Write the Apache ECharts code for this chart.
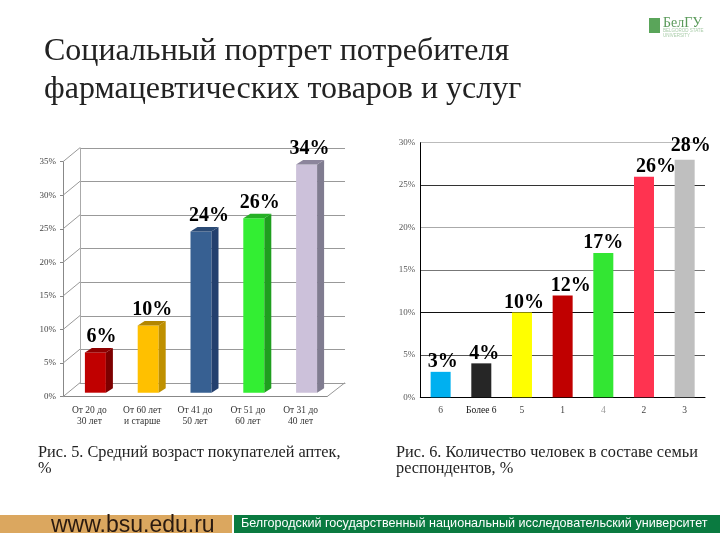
<!DOCTYPE html>
<html>
<head>
<meta charset="utf-8">
<style>
  html, body { margin: 0; padding: 0; background: #fff; }
  #chart { width: 720px; height: 540px; }
</style>
<script src="https://cdn.jsdelivr.net/npm/echarts@6/dist/echarts.min.js"></script>
</head>
<body>
<div id="chart"></div>
<script>
const ageCategories = ['От 20 до\n30 лет', 'От 60 лет\nи старше', 'От 41 до\n50 лет', 'От 51 до\n60 лет', 'От 31 до\n40 лет']
const ageValues = [6, 10, 24, 26, 34]
const ageTicks = [0, 5, 10, 15, 20, 25, 30, 35]

const familyCategories = ['6', 'Более 6', '5', '1', '4', '2', '3']
const familyValues = [3, 4, 10, 12, 17, 26, 28]

const titleText = 'Социальный портрет потребителя\nфармацевтических товаров и услуг'
const captionLeft = 'Рис. 5. Средний возраст покупателей аптек,\n%'
const captionRight = 'Рис. 6. Количество человек в составе семьи\nреспондентов, %'
const footerSite = 'www.bsu.edu.ru'
const footerName = 'Белгородский государственный национальный исследовательский университет'

const SERIF = '"Liberation Serif", serif'
const SANS = '"Liberation Sans", sans-serif'

// front, side, top faces
const ageColors = [
  ['#c00000', '#7d0000', '#8f0000'],
  ['#ffc000', '#bf9000', '#b38600'],
  ['#376092', '#24406e', '#2a4a75'],
  ['#33ee33', '#1f9e1f', '#26b026'],
  ['#ccc1da', '#807c90', '#8c859c'],
]
const familyColors = ['#00b0f0', '#262626', '#ffff00', '#c00000', '#33e633', '#ff3350', '#bfbfbf']
const familyGridColors = ['#000', '#555', '#111', '#777', '#aaa', '#333', '#bbb']

const ageLabelShift = [12, 10, 14, 12, 9]
const familyLabelShift = [2, 3, 2, 8, 0, 12, 6]
const familyLabelLift = [0, 0, 0, 0, 0, 0, 4]

function renderWallEdge(params, api) {
  const cs = params.coordSys
  const y = api.coord([0, api.value(1)])[1]
  const children = [{
    type: 'line',
    shape: { x1: cs.x, y1: y, x2: cs.x + 17, y2: y - 14 },
    style: { stroke: '#999', lineWidth: 1 },
  }]
  if (api.value(1) === 0) {
    children.push({
      type: 'line',
      shape: { x1: cs.x + cs.width, y1: y, x2: cs.x + cs.width + 18, y2: y - 14 },
      style: { stroke: '#999', lineWidth: 1 },
    })
  }
  return { type: 'group', children }
}

function renderBar3d(params, api) {
  const i = api.value(0)
  const value = api.value(1)
  const top = api.coord([i, value])
  const base = api.coord([i, 0])
  const w = 21
  const d = 7
  const h = 4.5
  const x = top[0] + 6 - w / 2
  const y0 = base[1] - 4
  const y1 = top[1] - 4
  const colors = ageColors[i]
  return {
    type: 'group',
    children: [
      { type: 'rect', shape: { x, y: y1, width: w, height: y0 - y1 }, style: { fill: colors[0] } },
      {
        type: 'polygon',
        shape: { points: [[x + w, y1], [x + w + d, y1 - h], [x + w + d, y0 - h], [x + w, y0]] },
        style: { fill: colors[1] },
      },
      {
        type: 'polygon',
        shape: { points: [[x, y1], [x + d, y1 - h], [x + w + d, y1 - h], [x + w, y1]] },
        style: { fill: colors[2] },
      },
      {
        type: 'text',
        style: {
          x: top[0] + ageLabelShift[i],
          y: y1 - h - 1,
          text: value + '%',
          align: 'center',
          verticalAlign: 'bottom',
          font: 'bold 20px ' + SERIF,
          fill: '#000',
        },
      },
    ],
  }
}

const option = {
  animation: false,
  backgroundColor: '#fff',
  textStyle: { fontFamily: SERIF },
  title: [
    {
      text: titleText,
      left: 39,
      top: 28,
      textStyle: { fontFamily: SERIF, fontWeight: 'normal', fontSize: 32, lineHeight: 38, color: '#222' },
    },
    {
      text: captionLeft,
      left: 33,
      top: 440,
      textStyle: { fontFamily: SERIF, fontWeight: 'normal', fontSize: 16.3, lineHeight: 16, color: '#222' },
    },
    {
      text: captionRight,
      left: 391,
      top: 440,
      textStyle: { fontFamily: SERIF, fontWeight: 'normal', fontSize: 16.3, lineHeight: 16, color: '#222' },
    },
  ],
  grid: [
    { left: 63, top: 161.7, width: 264, height: 235 },
    { left: 80, top: 148, width: 265, height: 235 },
    { left: 420.3, top: 142.7, width: 284.7, height: 254.6 },
  ],
  xAxis: [
    {
      gridIndex: 0,
      type: 'category',
      data: ageCategories,
      axisLine: { lineStyle: { color: '#888' } },
      axisTick: { length: 4, lineStyle: { color: '#888' } },
      axisLabel: { color: '#333', fontSize: 9.5, lineHeight: 11, margin: 8, interval: 0 },
    },
    {
      gridIndex: 1,
      type: 'category',
      data: ageCategories,
      axisLine: { lineStyle: { color: '#999' } },
      axisTick: { show: false },
      axisLabel: { show: false },
    },
    {
      gridIndex: 2,
      type: 'category',
      data: familyCategories,
      axisLine: { lineStyle: { color: '#000' } },
      axisTick: { length: 4, lineStyle: { color: '#000' } },
      axisLabel: {
        fontSize: 9.5,
        margin: 8,
        interval: 0,
        color: (value) => (value === 'Более 6' ? '#111' : value === '4' ? '#999' : '#444'),
      },
    },
  ],
  yAxis: [
    {
      gridIndex: 0,
      type: 'value',
      min: 0,
      max: 35,
      interval: 5,
      axisLine: { show: true, lineStyle: { color: '#888' } },
      axisTick: { show: true, length: 3, lineStyle: { color: '#888' } },
      axisLabel: { formatter: '{value}%', color: '#444', fontSize: 9, margin: 7 },
      splitLine: { show: false },
    },
    {
      gridIndex: 1,
      type: 'value',
      min: 0,
      max: 35,
      interval: 5,
      axisLine: { show: true, lineStyle: { color: '#aaa' } },
      axisTick: { show: false },
      axisLabel: { show: false },
      splitLine: { lineStyle: { color: '#999' } },
    },
    {
      gridIndex: 2,
      type: 'value',
      min: 0,
      max: 30,
      interval: 5,
      axisLine: { show: true, lineStyle: { color: '#000' } },
      axisTick: { show: false },
      axisLabel: { formatter: '{value}%', color: '#555', fontSize: 9, margin: 5 },
      splitLine: { lineStyle: { color: familyGridColors, width: 1 } },
    },
  ],
  series: [
    {
      type: 'custom',
      xAxisIndex: 0,
      yAxisIndex: 0,
      clip: false,
      silent: true,
      renderItem: renderWallEdge,
      data: ageTicks.map((tick) => [0, tick]),
      z: 1,
    },
    {
      type: 'custom',
      xAxisIndex: 0,
      yAxisIndex: 0,
      clip: false,
      renderItem: renderBar3d,
      data: ageValues.map((value, i) => [i, value]),
      z: 3,
    },
    {
      type: 'bar',
      xAxisIndex: 2,
      yAxisIndex: 2,
      barWidth: 20,
      data: familyValues.map((value, i) => ({
        value,
        itemStyle: { color: familyColors[i] },
        label: { offset: [familyLabelShift[i], -familyLabelLift[i]] },
      })),
      label: {
        show: true,
        position: 'top',
        distance: 0,
        formatter: '{c}%',
        fontFamily: SERIF,
        fontWeight: 'bold',
        fontSize: 20,
        color: '#000',
      },
      z: 3,
    },
  ],
  graphic: [
    { type: 'rect', shape: { x: 0, y: 515, width: 232, height: 18 }, style: { fill: '#dba75f' } },
    { type: 'rect', shape: { x: 234, y: 515, width: 486, height: 18 }, style: { fill: '#0a7a40' } },
    {
      type: 'text',
      style: { x: 51, y: 526, text: footerSite, font: '23px ' + SANS, fill: '#2a1a10', verticalAlign: 'middle' },
    },
    {
      type: 'text',
      style: { x: 241, y: 524, text: footerName, font: '12.6px ' + SANS, fill: '#fff', verticalAlign: 'middle' },
    },
    { type: 'rect', shape: { x: 649, y: 18, width: 11, height: 15 }, style: { fill: '#5aa55a' } },
    {
      type: 'text',
      style: { x: 663, y: 23, text: 'БелГУ', font: '14px ' + SERIF, fill: '#5a9a5a', verticalAlign: 'middle' },
    },
    {
      type: 'text',
      style: { x: 663, y: 31, text: 'BELGOROD STATE', font: '4.5px ' + SANS, fill: '#a8cca8', verticalAlign: 'middle' },
    },
    {
      type: 'text',
      style: { x: 663, y: 36, text: 'UNIVERSITY', font: '4.5px ' + SANS, fill: '#a8cca8', verticalAlign: 'middle' },
    },
  ],
}

const chart = echarts.init(document.getElementById('chart'), null, { renderer: 'canvas' })
chart.setOption(option)
</script>
</body>
</html>
